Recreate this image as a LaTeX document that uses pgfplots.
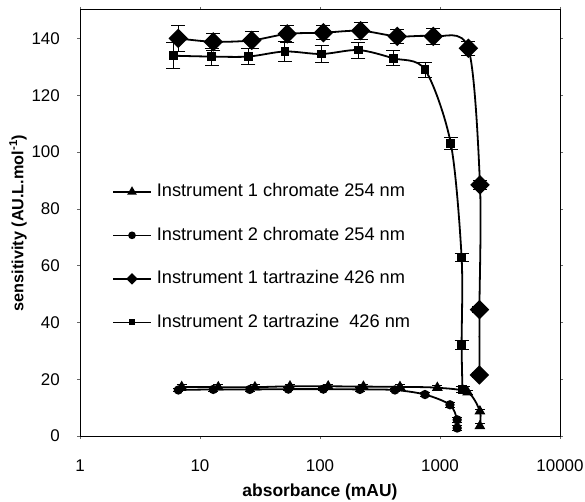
\documentclass[border=0pt]{standalone}
\usepackage{fontspec}
\setmainfont{Liberation Sans}
\usepackage{pgfplots}
\pgfplotsset{compat=1.18}
\usepackage{pgfplotstable}

\pgfplotstableread{
x y e
7.04 17.3 0.8
14.2 17.2 0.8
28.7 17.2 0.8
56.2 17.5 0.8
117 17.5 0.8
230 17.4 0.8
464 17.3 0.8
950 17.0 0.8
1700 15.4 0.8
2150 8.7 0.8
2150 3.5 0.8
}\instAchrom

\pgfplotstableread{
x y e
6.6 16.2 0.6
12.9 16.4 0.6
26 16.4 0.6
54.4 16.5 0.6
106.6 16.5 0.6
215 16.4 0.6
421 16.2 0.6
750 14.6 0.6
1210 11.0 0.8
1390 5.7 0.8
1390 2.8 0.8
}\instBchrom

\pgfplotstableread{
x y e
6.6 140.0 4.5
12.9 138.8 3.0
27 139.3 3.0
53.4 141.6 3.0
106.6 142.0 2.5
218 142.7 3.0
440 140.7 2.6
878 140.7 2.7
1723 136.5 2.6
2154 88.4 1.5
2131 44.5 1.0
2131 21.5 1.0
}\instAtart

\pgfplotstableread{
x y e
6.0 133.9 4.5
12.5 133.6 3.0
25.3 133.6 2.8
51 135.4 3.5
103 134.5 3.0
209 135.9 2.8
407 133.0 2.6
750 129.0 2.6
1230 103.0 2.0
1514 62.8 1.5
1514 32.0 1.5
1540 16.3 1.0
}\instBtart

\begin{document}
\begin{tikzpicture}
\begin{axis}[
  name=ax,
  scale only axis, width=480bp, height=426bp,
  xmode=log, xmin=1, xmax=10000, ymin=0, ymax=150,
  xtick={1,10,100,1000,10000},
  xticklabels={1,10,100,1000,10000},
  xminorticks=false,
  ytick={0,20,40,60,80,100,120,140},
  /pgf/number format/assume math mode=true,
  tick align=outside, major tick length=3bp,
  tick style={black!60, line width=0.5bp},
  axis line style={line width=1bp},
  ticklabel style={font=\fontsize{17}{19}\selectfont, inner sep=0pt},
  xticklabel style={anchor=center, yshift=-27bp},
  yticklabel style={anchor=east, xshift=-17bp},
  xlabel={absorbance (mAU)},
  ylabel={sensitivity (AU.L.mol\textsuperscript{-1})},
  every axis x label/.style={at={(axis description cs:0.5,-0.1315)}, anchor=center, font=\fontsize{17.5}{19}\selectfont\bfseries},
  every axis y label/.style={at={(axis description cs:-0.129,0.5)}, anchor=center, rotate=90, font=\fontsize{16.3}{18}\selectfont\bfseries},
  legend image code/.code={\draw[#1, mark repeat=2, mark phase=2] plot coordinates {(0bp,0bp) (19bp,0bp) (38bp,0bp)};},
  legend style={draw=none, fill=none, inner sep=0pt, at={(axis description cs:0.0667,0.42)}, anchor=west,
    font=\fontsize{18.3}{21}\selectfont,
    nodes={inner sep=0pt, text height=13bp, text depth=3bp},
    row sep=27.5bp,
    /tikz/every odd column/.style={column sep=5bp}},
  legend cell align=left,
]
\addplot[black, line width=1.8bp, smooth, mark=triangle*, mark size=4.5bp, mark options={solid, fill=black}, forget plot,
  error bars/.cd, y dir=both, y explicit, error bar style={line width=0.9bp},
  error mark options={rotate=90, mark size=5bp, line width=0.9bp}]
  table[x=x, y=y, y error=e] {\instAchrom};
\addplot[black, line width=1.8bp, smooth, mark=*, mark size=3.7bp, mark options={solid, fill=black}, forget plot,
  error bars/.cd, y dir=both, y explicit, error bar style={line width=0.9bp},
  error mark options={rotate=90, mark size=5bp, line width=0.9bp}]
  table[x=x, y=y, y error=e] {\instBchrom};
\addplot[black, line width=1.8bp, smooth, mark=square*, mark size=6bp, mark options={solid, fill=black, rotate=45}, forget plot,
  error bars/.cd, y dir=both, y explicit, error bar style={line width=0.9bp},
  error mark options={rotate=90, mark size=7bp, line width=0.9bp}]
  table[x=x, y=y, y error=e] {\instAtart};
\addplot[black, line width=1.8bp, smooth, mark=square*, mark size=3.5bp, mark options={solid, fill=black}, forget plot,
  error bars/.cd, y dir=both, y explicit, error bar style={line width=0.9bp},
  error mark options={rotate=90, mark size=7bp, line width=0.9bp}]
  table[x=x, y=y, y error=e] {\instBtart};

\addlegendimage{black, line width=1.6bp, mark=triangle*, mark size=4bp, mark options={fill=black}}
\addlegendentry{Instrument 1 chromate 254 nm}
\addlegendimage{black, line width=1.6bp, mark=*, mark size=3bp, mark options={fill=black}}
\addlegendentry{Instrument 2 chromate 254 nm}
\addlegendimage{black, line width=1.6bp, mark=square*, mark size=3.3bp, mark options={fill=black, rotate=45}}
\addlegendentry{Instrument 1 tartrazine 426 nm}
\addlegendimage{black, line width=1.6bp, mark=square*, mark size=2.2bp, mark options={fill=black}}
\addlegendentry{Instrument 2 tartrazine\ \ 426 nm}
\end{axis}
\pgfresetboundingbox
\path[use as bounding box] ([shift={(-80bp,-65bp)}]ax.south west) rectangle ([shift={(25bp,10bp)}]ax.north east);
\end{tikzpicture}
\end{document}
